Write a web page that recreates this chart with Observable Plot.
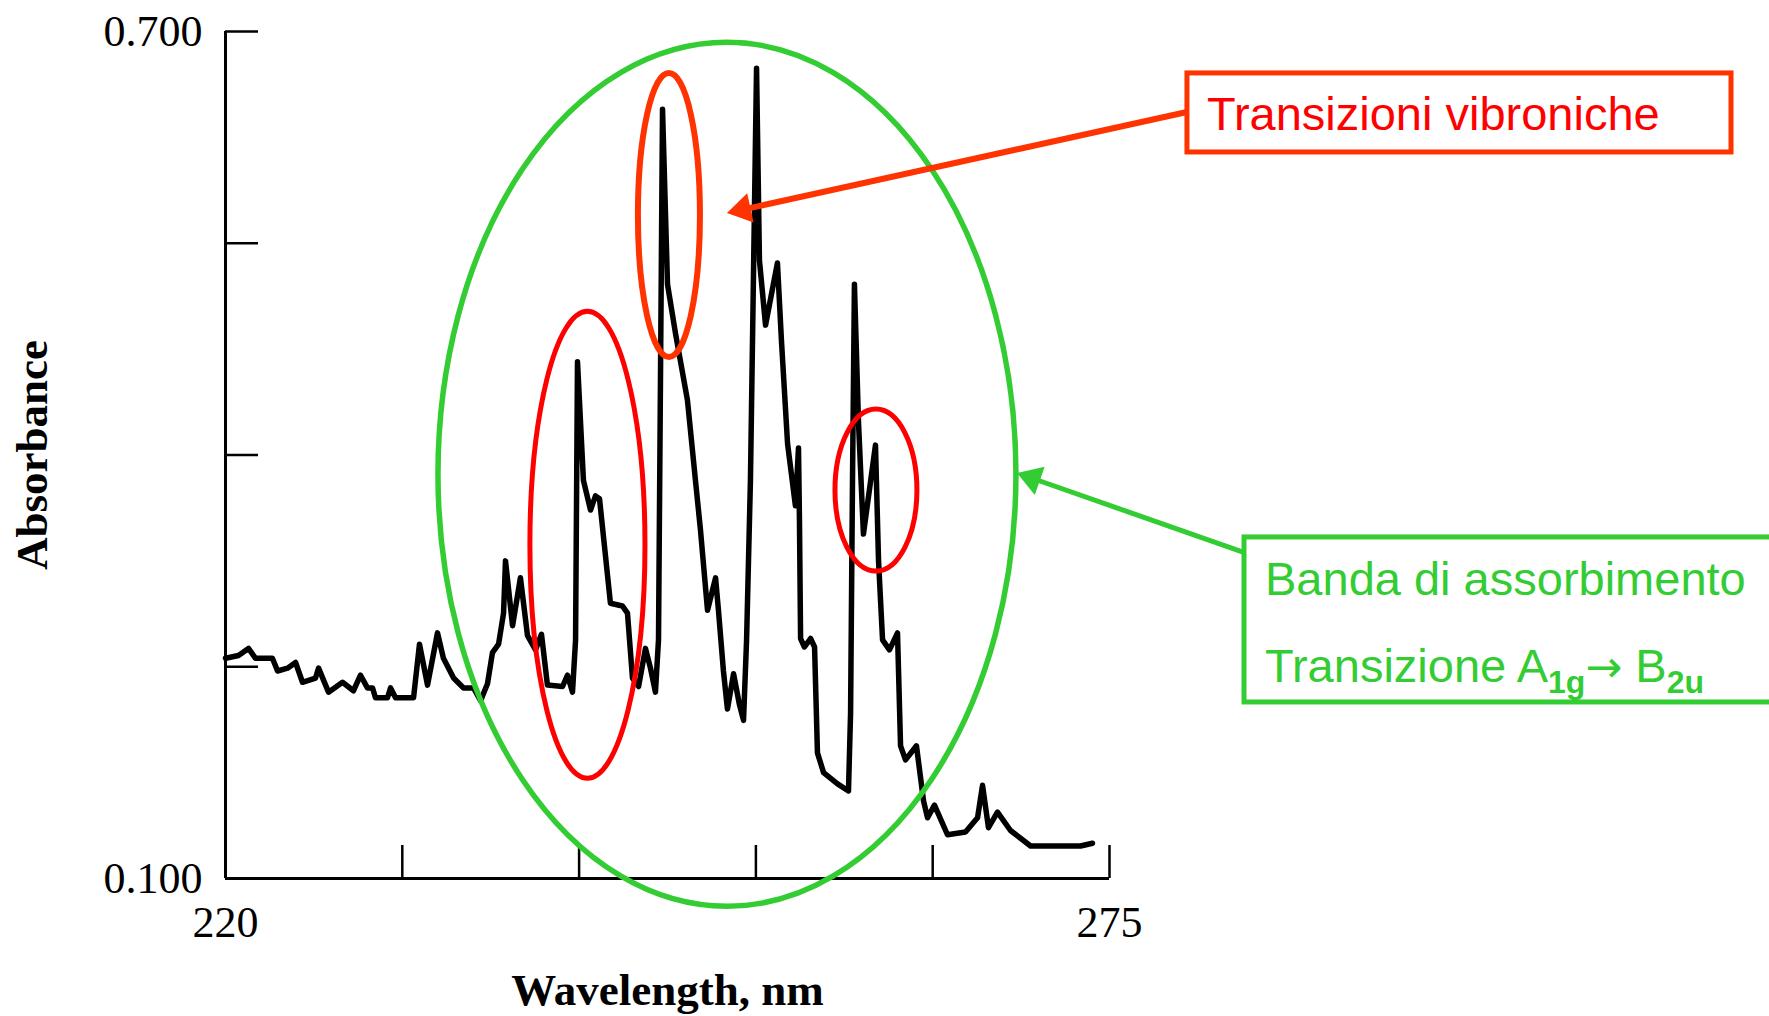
<!DOCTYPE html>
<html>
<head>
<meta charset="utf-8">
<script src="https://cdn.jsdelivr.net/npm/d3@7"></script>
<script src="https://cdn.jsdelivr.net/npm/@observablehq/plot@0.6"></script>
<style>
  html, body { margin: 0; padding: 0; background: #fff; overflow: hidden; }
  #chart svg { display: block; }
</style>
</head>
<body>
<div id="chart"></div>
<script>
// ---- Data ----
const wavelength = [
  220.00, 220.81, 221.43, 221.87, 222.92, 223.24, 223.86, 224.36, 224.79, 225.60,
  225.79, 226.41, 227.28, 227.96, 228.40, 228.83, 229.15, 229.33, 230.08, 230.27,
  230.58, 231.70, 232.07, 232.57, 233.19, 233.56, 234.19, 234.81, 235.43, 235.87,
  236.30, 236.61, 236.99, 237.30, 237.42, 237.86, 238.35, 238.79, 239.29, 239.66,
  240.03, 240.97, 241.28, 241.59, 241.78, 241.90, 242.27, 242.71, 243.02, 243.27,
  243.95, 244.70, 245.01, 245.32, 245.70, 246.13, 246.44, 246.75, 246.94, 247.19,
  247.50, 248.00, 248.74, 249.24, 249.55, 249.99, 250.49, 250.67, 250.98, 251.23,
  251.61, 251.98, 252.23, 252.42, 252.66, 253.04, 253.22, 253.60, 254.34, 254.59,
  254.97, 255.46, 255.65, 255.71, 255.78, 256.02, 256.40, 256.65, 256.83, 257.21,
  258.08, 258.76, 258.89, 259.01, 259.13, 259.38, 259.69, 260.44, 260.63, 260.88,
  261.31, 261.81, 262.00, 262.31, 262.99, 263.43, 263.68, 264.11, 264.92, 266.04,
  266.79, 267.10, 267.47, 268.03, 268.84, 270.09, 273.20, 273.94
];
const absorbance = [
  0.256, 0.258, 0.263, 0.256, 0.256, 0.247, 0.249, 0.253, 0.239, 0.242,
  0.249, 0.232, 0.239, 0.233, 0.244, 0.235, 0.235, 0.228, 0.228, 0.235,
  0.228, 0.228, 0.266, 0.237, 0.274, 0.256, 0.242, 0.235, 0.235, 0.226,
  0.238, 0.260, 0.266, 0.288, 0.325, 0.279, 0.313, 0.272, 0.262, 0.273,
  0.237, 0.236, 0.244, 0.232, 0.269, 0.466, 0.382, 0.361, 0.371, 0.369,
  0.295, 0.293, 0.288, 0.242, 0.236, 0.263, 0.249, 0.232, 0.269, 0.645,
  0.521, 0.486, 0.439, 0.382, 0.347, 0.290, 0.313, 0.290, 0.247, 0.220,
  0.245, 0.223, 0.212, 0.269, 0.382, 0.674, 0.538, 0.492, 0.536, 0.481,
  0.408, 0.364, 0.405, 0.354, 0.270, 0.264, 0.270, 0.264, 0.189, 0.175,
  0.167, 0.162, 0.217, 0.382, 0.521, 0.424, 0.344, 0.407, 0.325, 0.269,
  0.262, 0.274, 0.194, 0.184, 0.194, 0.155, 0.143, 0.152, 0.131, 0.133,
  0.143, 0.166, 0.136, 0.147, 0.134, 0.123, 0.123, 0.125
];
const yTicks = [0.1, 0.25, 0.4, 0.55, 0.7];
const yTickLabels = ["0.100", "", "", "", "0.700"];
const xTicks = [220, 231, 242, 253, 264, 275];
const xTickLabels = ["220", "", "", "", "", "275"];
const xLabel = "Wavelength, nm";
const yLabel = "Absorbance";
const redLabel = "Transizioni vibroniche";
const greenLabel1 = "Banda di assorbimento";
const greenLabel2 = ["Transizione A", "1g", "\u2192", " B", "2u"];

// ---- Annotation geometry (data units) and styles ----
const ellipses = [
  {cx: 251.23, cy: 0.386, rx: 17.98, ry: 0.306, color: "#33CC33", width: 5.5},
  {cx: 242.55, cy: 0.336, rx: 3.58, ry: 0.1654, color: "#FF0000", width: 5},
  {cx: 247.62, cy: 0.5697, rx: 1.93, ry: 0.1006, color: "#FF3300", width: 6},
  {cx: 260.50, cy: 0.3748, rx: 2.55, ry: 0.0574, color: "#FF0000", width: 5}
];
const arrows = [
  {from: [279.85, 0.6426], to: [251.23, 0.571], color: "#FF3300", width: 6},
  {from: [283.34, 0.3309], to: [269.28, 0.3869], color: "#33CC33", width: 5}
];
const redBox = {x1: 279.85, x2: 313.70, y1: 0.6703, y2: 0.6143, color: "#FF3300", width: 5};
const greenBox = {x1: 283.40, x2: 316.80, y1: 0.3416, y2: 0.2247, color: "#33CC33", width: 5};

const data = wavelength.map((w, i) => ({nm: w, A: absorbance[i]}));
const serif = "'Liberation Serif', 'Times New Roman', Times, serif";
const sans = "'Liberation Sans', Arial, Helvetica, sans-serif";

function annotations(index, {x, y}) {
  const g = d3.create("svg:g").attr("fill", "none");
  for (const e of ellipses) {
    g.append("ellipse")
      .attr("cx", x(e.cx)).attr("cy", y(e.cy))
      .attr("rx", Math.abs(x(e.cx + e.rx) - x(e.cx)))
      .attr("ry", Math.abs(y(e.cy + e.ry) - y(e.cy)))
      .attr("stroke", e.color).attr("stroke-width", e.width);
  }
  for (const a of arrows) {
    const x1 = x(a.from[0]), y1 = y(a.from[1]), x2 = x(a.to[0]), y2 = y(a.to[1]);
    const dx = x2 - x1, dy = y2 - y1, len = Math.hypot(dx, dy);
    const ux = dx / len, uy = dy / len, hl = 24, hw = 15;
    const bx = x2 - ux * hl, by = y2 - uy * hl;
    g.append("line").attr("x1", x1).attr("y1", y1).attr("x2", bx + ux * 2).attr("y2", by + uy * 2)
      .attr("stroke", a.color).attr("stroke-width", a.width);
    g.append("path")
      .attr("d", `M${x2},${y2}L${bx - uy * hw},${by + ux * hw}L${bx + uy * hw},${by - ux * hw}Z`)
      .attr("fill", a.color);
  }
  for (const b of [redBox, greenBox]) {
    g.append("rect")
      .attr("x", x(b.x1)).attr("y", y(b.y1))
      .attr("width", x(b.x2) - x(b.x1)).attr("height", y(b.y2) - y(b.y1))
      .attr("fill", "#fff").attr("stroke", b.color).attr("stroke-width", b.width);
  }
  g.append("text")
    .attr("x", x(redBox.x1) + 20).attr("y", y(redBox.y1) + 57)
    .attr("text-anchor", "start")
    .attr("fill", "#FF0000").attr("font-family", sans).attr("font-size", 47)
    .text(redLabel);
  const gx = x(greenBox.x1) + 21, gy = y(greenBox.y1);
  g.append("text")
    .attr("x", gx).attr("y", gy + 58)
    .attr("text-anchor", "start")
    .attr("fill", "#33CC33").attr("font-family", sans).attr("font-size", 47)
    .text(greenLabel1);
  const t = g.append("text")
    .attr("x", gx).attr("y", gy + 145)
    .attr("text-anchor", "start")
    .attr("fill", "#33CC33").attr("font-family", sans).attr("font-size", 47)
    .attr("xml:space", "preserve").style("white-space", "pre");
  t.append("tspan").text(greenLabel2[0]);
  t.append("tspan").attr("dy", 11).attr("font-size", 32).attr("font-weight", "bold").text(greenLabel2[1]);
  t.append("tspan").attr("dy", -11).attr("font-family", "'DejaVu Sans', sans-serif").attr("font-size", 44).text(greenLabel2[2]);
  t.append("tspan").text(greenLabel2[3]);
  t.append("tspan").attr("dy", 11).attr("font-size", 32).attr("font-weight", "bold").text(greenLabel2[4]);
  return g.node();
}

const chart = Plot.plot({
  width: 1769,
  height: 1016,
  marginLeft: 225,
  marginRight: 660,
  marginTop: 31,
  marginBottom: 138,
  x: {domain: [220, 275]},
  y: {domain: [0.1, 0.7]},
  style: {fontFamily: serif, fontSize: "43px", color: "#000", background: "#fff", overflow: "visible"},
  marks: [
    Plot.ruleX([220], {stroke: "#000", strokeWidth: 3}),
    Plot.ruleY([0.1], {stroke: "#000", strokeWidth: 3}),
    Plot.axisY({
      ticks: yTicks, tickSize: -33, tickPadding: 56, strokeWidth: 2.5, label: null,
      fontSize: 44, tickFormat: d => yTickLabels[yTicks.indexOf(d)] ?? ""
    }),
    Plot.axisX({
      ticks: xTicks, tickSize: -33, tickPadding: 60, strokeWidth: 2.5, label: null,
      fontSize: 44, tickFormat: d => xTickLabels[xTicks.indexOf(d)] ?? ""
    }),
    Plot.line(data, {x: "nm", y: "A", stroke: "#000", strokeWidth: 5.5, strokeLinejoin: "round"}),
    Plot.text([yLabel], {text: d => d, frameAnchor: "left", dx: -193, rotate: -90,
      textAnchor: "middle", lineAnchor: "middle",
      fontWeight: "bold", fontSize: 45, fill: "#000"}),
    Plot.text([xLabel], {text: d => d, frameAnchor: "bottom", dy: 112,
      textAnchor: "middle", lineAnchor: "middle",
      fontWeight: "bold", fontSize: 45, fill: "#000"}),
    annotations
  ]
});
document.getElementById("chart").appendChild(chart);
</script>
</body>
</html>
